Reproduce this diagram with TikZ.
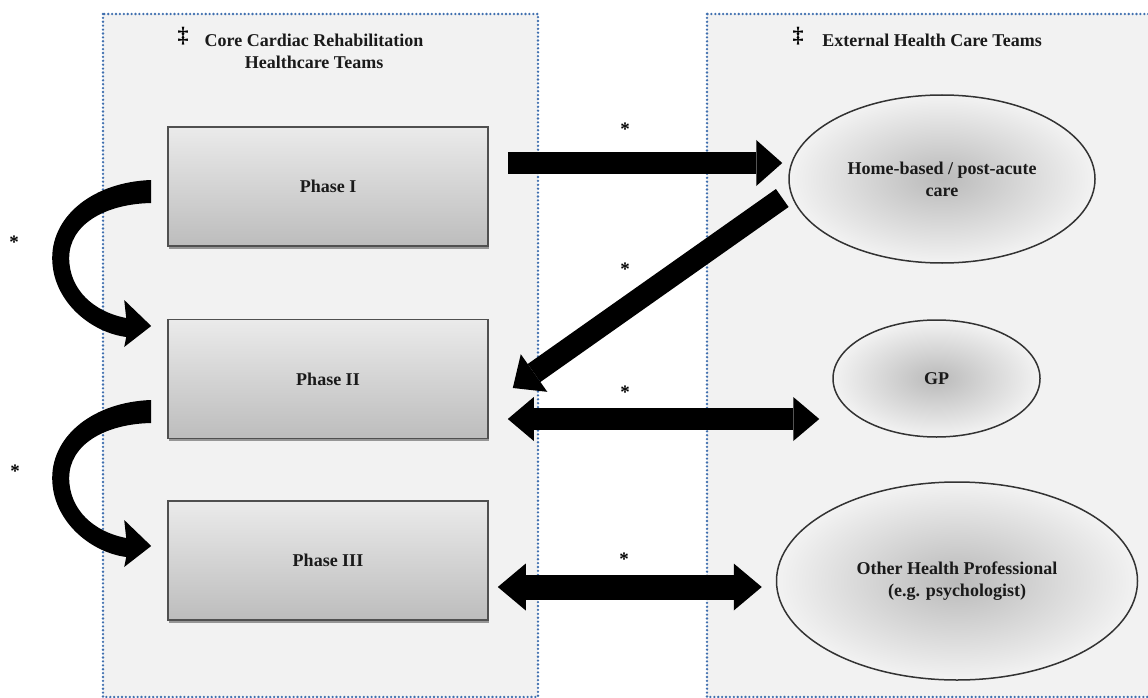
\documentclass[tikz,border=0pt]{standalone}
\usepackage{fontspec}
\setmainfont{Liberation Serif}
\usetikzlibrary{arrows.meta,shapes.geometric,calc,shadows}
\definecolor{panelgray}{HTML}{F2F2F2}
\definecolor{dotblue}{HTML}{3F6FAF}
\definecolor{boxedge}{HTML}{505050}
\definecolor{textblack}{HTML}{1A1A1A}
\begin{document}
\begin{tikzpicture}[x=1pt,y=-1pt,
  panel/.style={fill=panelgray, draw=dotblue, line width=2.6pt, line cap=round, dash pattern=on 0pt off 3.9pt},
  lbl/.style={font=\bfseries\fontsize{18}{22}\selectfont, text=textblack},
  phasebox/.style={lbl, rectangle, draw=boxedge, line width=1.6pt, top color=black!8, bottom color=black!26,
    minimum width=320pt, minimum height=119pt, inner sep=0pt,
    drop shadow={shadow xshift=0.5pt, shadow yshift=-2.5pt, opacity=0.55, fill=black!70}},
  team/.style={lbl, ellipse, draw=black!80, line width=1.5pt, inner color=black!27, outer color=black!5,
    align=center, inner sep=0pt},
  bigarrow/.style={line width=22pt, -{Triangle[length=26pt,width=46pt,line width=0pt]}},
  dblarrow/.style={line width=22pt, {Triangle[length=26pt,width=44pt,line width=0pt]}-{Triangle[length=26pt,width=44pt,line width=0pt]}},
  dblarrowb/.style={line width=25pt, {Triangle[length=28pt,width=47pt,line width=0pt]}-{Triangle[length=28pt,width=47pt,line width=0pt]}},
  star/.style={font=\bfseries\fontsize{19}{19}\selectfont, text=black, inner sep=0pt},
  dagger/.style={font=\bfseries\fontsize{22}{22}\selectfont, text=black},
]
\useasboundingbox (0,0) rectangle (1148,698);
\fill[white] (0,0) rectangle (1148,698);

% panels
\draw[panel] (103,14) rectangle (538,697);
\draw[panel] (707,14) rectangle (1165,697);

% titles
\node[dagger] (dag1) at (183,36) {‡};
\node[lbl, align=center] (ttl1) at (314,51) {Core Cardiac Rehabilitation\\Healthcare Teams};
\node[dagger] (dag2) at (798,36) {‡};
\node[lbl] (ttl2) at (932,40) {External Health Care Teams};

% phase boxes
\node[phasebox] (p1) at (328,186.5) {Phase I};
\node[phasebox] (p2) at (328,379) {Phase II};
\node[phasebox] (p3) at (328,560.5) {Phase III};

% external teams
\node[team, minimum width=306pt, minimum height=168pt] (home) at (942,179) {Home-based / post-acute\\care};
\node[team, minimum width=207pt, minimum height=117pt] (gp) at (936.5,378.5) {GP};
\node[team, minimum width=361pt, minimum height=198pt] (other) at (957,581) {Other Health Professional\\(e.g. psychologist)};

% straight arrows
\draw[bigarrow] ($(p1.east)+(19,-23.5)$) -- ($(home.west)+(-6,-16)$);
\draw[bigarrow] ($(home.west)+(-6,19)$) -- ($(p2.east)+(24,9)$);
\draw[dblarrow] ($(p2.east)+(19,40)$) -- ($(gp.west)+(-13,40.5)$);
\draw[dblarrowb] ($(p3.east)+(9,26.5)$) -- ($(other.west)+(-14,6)$);

% curved arrows
\begin{scope}[shift={(p1.west)}]
\fill[black] (-16,-6.5) .. controls (-73,-4.5) and (-115,28.5) .. (-115,71.5)
  .. controls (-115,113.5) and (-78,145.5) .. (-41,150.5)
  -- (-43,160.5) -- (-16,139.5) -- (-43,113.5) -- (-41,131.5)
  .. controls (-73,125.5) and (-98,103.5) .. (-98,71.5)
  .. controls (-98,38.5) and (-63,17.5) .. (-16,16.5) -- cycle;
\end{scope}
\begin{scope}[shift={($(p2.west)+(0,27.5)$)}]
\fill[black] (-16,-6.5) .. controls (-73,-4.5) and (-115,28.5) .. (-115,71.5)
  .. controls (-115,113.5) and (-78,145.5) .. (-41,150.5)
  -- (-43,160.5) -- (-16,139.5) -- (-43,113.5) -- (-41,131.5)
  .. controls (-73,125.5) and (-98,103.5) .. (-98,71.5)
  .. controls (-98,38.5) and (-63,17.5) .. (-16,16.5) -- cycle;
\end{scope}

% stars
\node[star] (s1) at (625,129) {*};
\node[star] (s2) at (625,269) {*};
\node[star] (s3) at (625,392) {*};
\node[star] (s4) at (624,559) {*};
\node[star] (s5) at (14,242) {*};
\node[star] (s6) at (15,471) {*};
\end{tikzpicture}
\end{document}
